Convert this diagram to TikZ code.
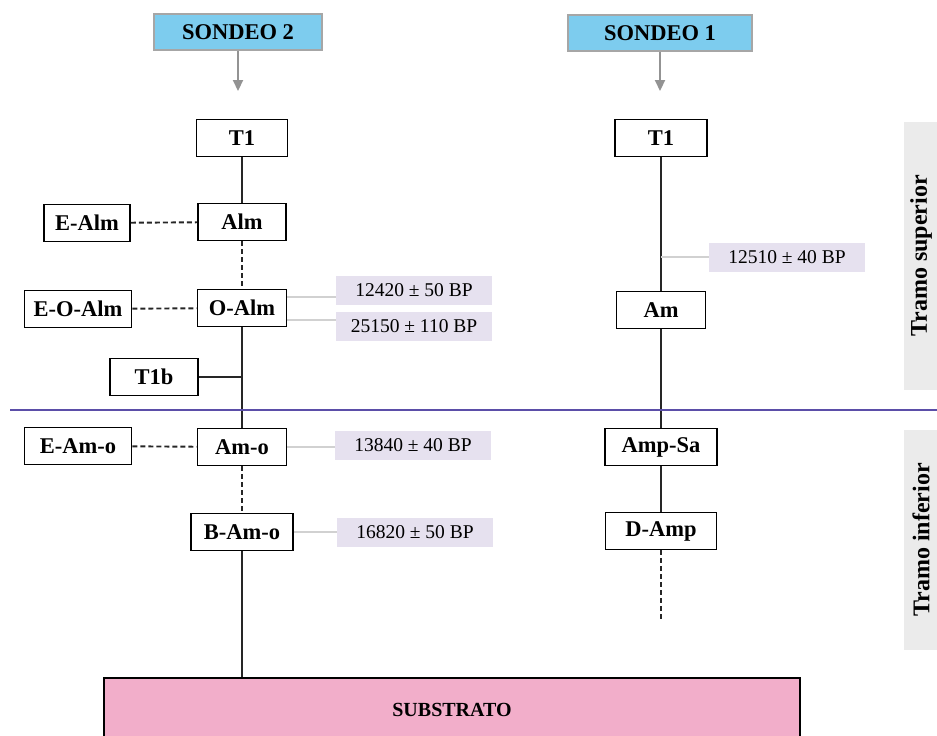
\documentclass[tikz,border=0pt]{standalone}
\usepackage{fontspec}
\setmainfont{Liberation Serif}
\usepackage{tikz}
\usetikzlibrary{positioning, arrows.meta}
\usepackage{xcolor}
\definecolor{sondeoblue}{HTML}{7DCCEE}
\definecolor{datelav}{HTML}{E6E1EF}
\definecolor{subpink}{HTML}{F2AECA}
\definecolor{tramogray}{HTML}{EBEBEB}
\definecolor{divblue}{HTML}{5B4EA8}

\begin{document}
\begin{tikzpicture}[x=1pt, y=-1pt,
    unit/.style={draw, line width=1.8pt, fill=white, minimum height=37pt, inner sep=0pt,
        font=\bfseries\fontsize{22.5}{22.5}\selectfont},
    sondeo/.style={draw=gray!70, line width=1.4pt, fill=sondeoblue, minimum height=36pt, inner sep=0pt,
        font=\bfseries\fontsize{22.5}{22.5}\selectfont},
    datebox/.style={fill=datelav, minimum width=156pt, minimum height=29pt, inner sep=0pt,
        font=\fontsize{19.5}{19.5}\selectfont},
    tramo/.style={fill=tramogray, inner sep=0pt, rotate=90, minimum height=35pt,
        font=\bfseries\fontsize{24}{24}\selectfont},
    stem/.style={line width=1.9pt, black!85},
    gap/.style={stem, dashed, dash pattern=on 5pt off 3pt},
    tick/.style={line width=1.3pt, black!18},
    feed/.style={line width=2.2pt, gray!85, -{Triangle[length=11pt, width=10pt]}}]
    \useasboundingbox (0,0) rectangle (937,736);

    % sondeo 2
    \node[sondeo, minimum width=168pt] (s2) at (238,32) {SONDEO 2};
    \coordinate (s2end) at (238,91);
    \draw[feed] (s2) -- (s2end);
    \node[unit, minimum width=91pt] (t1a) at (242,138) {T1};
    \node[unit, minimum width=88pt] (alm) at (242,222) {Alm};
    \node[unit, minimum width=86pt] (ealm) at (87,223) {E-Alm};
    \node[unit, minimum width=89pt] (oalm) at (242,308) {O-Alm};
    \node[unit, minimum width=107pt] (eoalm) at (78,309) {E-O-Alm};
    \node[unit, minimum width=88pt] (t1b) at (154,377) {T1b};
    \node[unit, minimum width=89pt] (amo) at (242,447) {Am-o};
    \node[unit, minimum width=107pt] (eamo) at (78,446) {E-Am-o};
    \node[unit, minimum width=102pt] (bamo) at (242,532) {B-Am-o};

    \node[datebox] (d1) at (414,290) {12420 ± 50 BP};
    \node[datebox] (d2) at (414,326) {25150 ± 110 BP};
    \node[datebox] (d3) at (413,445) {13840 ± 40 BP};
    \node[datebox] (d5) at (415,532) {16820 ± 50 BP};

    % sondeo 1
    \node[sondeo, minimum width=184pt] (s1) at (660,33) {SONDEO 1};
    \coordinate (s1end) at (660,91);
    \draw[feed] (s1) -- (s1end);
    \node[unit, minimum width=92pt] (t1r) at (661,138) {T1};
    \node[unit, minimum width=89pt] (am) at (661,310) {Am};
    \node[unit, minimum width=112pt] (ampsa) at (661,447) {Amp-Sa};
    \node[unit, minimum width=111pt] (damp) at (661,531) {D-Amp};
    \coordinate (dampend) at (661,622);
    \node[datebox] (d4) at (787,257) {12510 ± 40 BP};

    \node[draw, line width=2.6pt, fill=subpink, minimum width=696pt, minimum height=64pt,
        font=\bfseries\fontsize{20}{20}\selectfont] (sub) at (452,710) {SUBSTRATO};

    % tramos
    \node[tramo, minimum width=268pt] (tsup) at (921,256) {Tramo superior};
    \node[tramo, minimum width=220pt] (tinf) at (921,540) {Tramo inferior};
    \coordinate (divl) at (10,410);
    \coordinate (divr) at (937,410);

    % columna izquierda
    \draw[stem] (t1a) -- (alm);
    \draw[gap] (alm) -- (oalm);
    \draw[stem] (oalm) -- (amo);
    \draw[gap] (amo) -- (bamo);
    \draw[stem] (bamo) -- (bamo.south |- sub.north);
    \draw[stem] (t1b) -- (t1b.east -| oalm.south);
    \draw[gap] (ealm) -- (alm);
    \draw[gap] (eoalm) -- (oalm);
    \draw[gap] (eamo) -- (amo);
    \draw[tick] ([yshift=11pt]oalm.east) -- ([yshift=11pt]oalm.east -| d1.west);
    \draw[tick] ([yshift=-12pt]oalm.east) -- ([yshift=-12pt]oalm.east -| d2.west);
    \draw[tick] (amo.east) -- (amo.east -| d3.west);
    \draw[tick] (bamo.east) -- (d5.west);

    % columna derecha
    \draw[stem] (t1r) -- (am);
    \draw[stem] (am) -- (ampsa);
    \draw[stem] (ampsa) -- (damp);
    \draw[gap] (damp) -- (dampend);
    \draw[tick] (t1r.south |- d4.west) -- (d4.west);

    \draw[line width=1.5pt, divblue] (divl) -- (divr);
\end{tikzpicture}
\end{document}
